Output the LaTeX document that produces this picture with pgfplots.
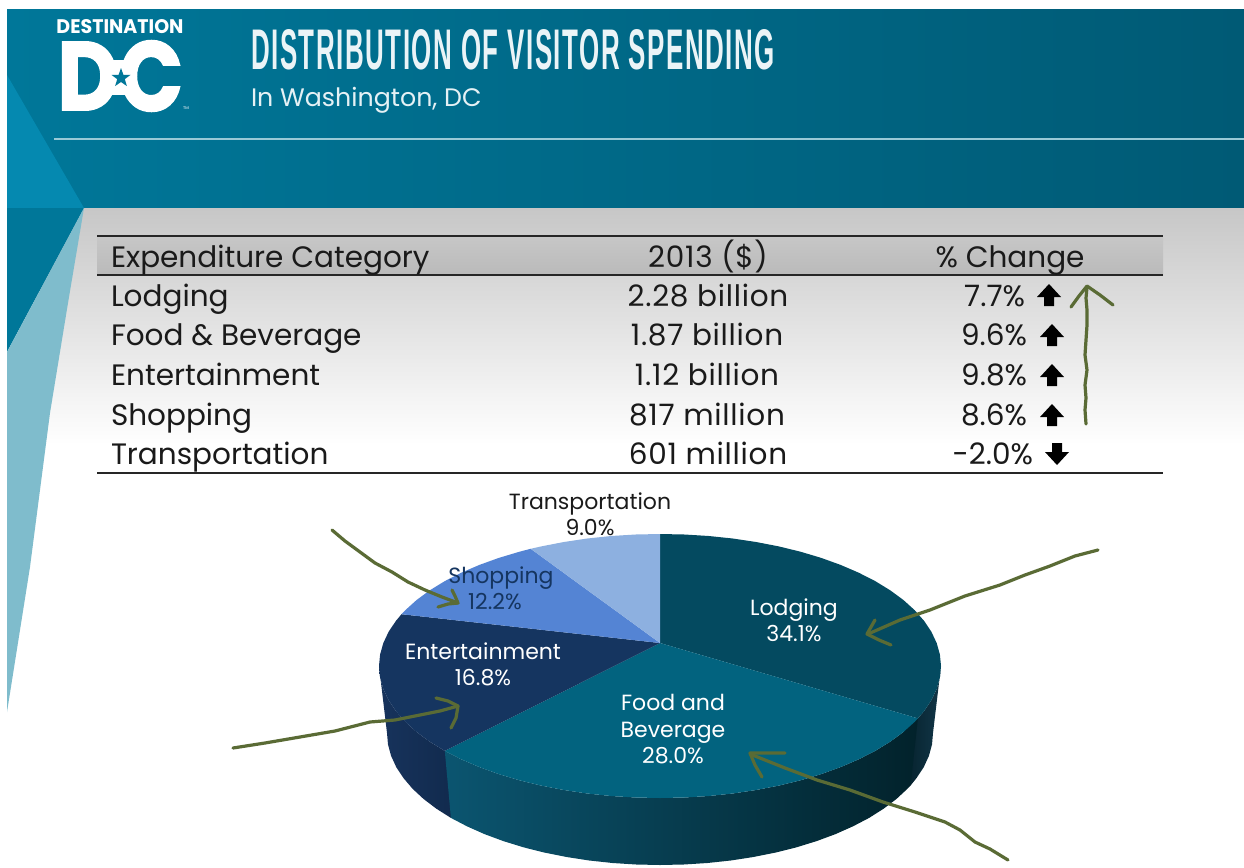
\documentclass[border=0pt]{standalone}
\usepackage{fontspec}
\usepackage{graphicx}
\usepackage{pgfplots}
\pgfplotsset{compat=1.18}
\setmainfont{Poppins}
\newfontfamily\libfont{Liberation Sans}
\definecolor{ink}{HTML}{1A1A1A}
\definecolor{olive}{HTML}{5A6B35}
\definecolor{hdL}{HTML}{007799}
\definecolor{hdR}{HTML}{005A75}
\definecolor{triA}{HTML}{0589B0}
\definecolor{triB}{HTML}{7FBCCC}
\definecolor{lodT}{HTML}{044A60}
\definecolor{fodT}{HTML}{02637F}
\definecolor{entT}{HTML}{153560}
\definecolor{shpT}{HTML}{5484D4}
\definecolor{trnT}{HTML}{8DB0E0}
\definecolor{sA}{HTML}{041F29}
\definecolor{sB}{HTML}{123648}
\definecolor{sC}{HTML}{0B5570}
\definecolor{sD}{HTML}{0A4A62}
\definecolor{sE}{HTML}{02222B}
\definecolor{sF}{HTML}{17335C}
\definecolor{sG}{HTML}{112A4D}
\newcommand\tb{\fontsize{29.5}{29.5}\selectfont}
\newcommand\tbn{\fontsize{29.5}{29.5}\selectfont\addfontfeature{LetterSpace=2.5}}
\newcommand\pl{\fontsize{22}{22}\selectfont}
\newcommand\hand{\addplot[draw=olive,line width=3.2pt,line cap=round]}
\tikzset{tx/.style={inner sep=0pt,outer sep=0pt,text=#1}}
\begin{document}
\begin{tikzpicture}
\begin{axis}[scale only axis,width=1244pt,height=867pt,xmin=0,xmax=1244,ymin=0,ymax=867,y dir=reverse,
  axis lines=none,clip=true,no markers,every axis plot/.append style={forget plot,draw=none,line join=round}]
% background
\addplot[fill=white] coordinates {(0,0)(1244,0)(1244,867)(0,867)} --cycle;
\addplot[left color=hdL,right color=hdR] coordinates {(7,10)(1244,10)(1244,208)(7,208)} --cycle;
\addplot[top color=black!22,bottom color=white] coordinates {(40,208)(1244,208)(1244,445)(40,445)} --cycle;
\addplot[fill=triA] coordinates {(7,75)(84,208)(7,208)} --cycle;
\addplot[fill=white] coordinates {(7,208)(40,208)(40,720)(7,720)} --cycle;
\addplot[fill=hdL] coordinates {(7,208)(84,208)(7,352)} --cycle;
\addplot[fill=triB] coordinates {(84,208)(68,303)(50,413)(30,567)(7,712)(7,352)} --cycle;
\addplot[draw=white!60!hdL,line width=2.5pt] coordinates {(54,139)(1244,139)};
% table
\addplot[top color=black!22,bottom color=black!27] coordinates {(97,236)(1163,236)(1163,275)(97,275)} --cycle;
\addplot[draw=black!85,line width=1.3pt] coordinates {(97,236)(1163,236)};
\addplot[draw=black!85,line width=1.3pt] coordinates {(97,275)(1163,275)};
\addplot[draw=black!85,line width=1.3pt] coordinates {(97,473)(1163,473)};
% table arrows
\addplot[fill=black] coordinates {(1049,284)(1061,297)(1054,297)(1054,306)(1044,306)(1044,297)(1037,297)} --cycle;
\addplot[fill=black] coordinates {(1052,324)(1064,337)(1057,337)(1057,346)(1047,346)(1047,337)(1040,337)} --cycle;
\addplot[fill=black] coordinates {(1052,364)(1064,377)(1057,377)(1057,386)(1047,386)(1047,377)(1040,377)} --cycle;
\addplot[fill=black] coordinates {(1052,404)(1064,417)(1057,417)(1057,426)(1047,426)(1047,417)(1040,417)} --cycle;
\addplot[fill=black] coordinates {(1057,465)(1069,452)(1062,452)(1062,443)(1052,443)(1052,452)(1045,452)} --cycle;
% pie sides
\addplot[left color=sA,right color=sB] coordinates {(905,720)(917.9,718.4)(924.1,711.1)(931.4,700.2)(936.7,688.9)(939.9,677.5)(941,666)(933,733)(932,744.5)(928.9,755.9)(923.7,767.2)(916.5,778.1)(910.6,785.4)(900,790)} --cycle;
\addplot[left color=sF,right color=sG] coordinates {(456,760)(444.8,750.9)(429.8,741.7)(416.6,732)(405.3,721.8)(395.9,711.1)(388.6,700.2)(383.3,688.9)(380.1,677.5)(379,666)(387,733)(388,744.5)(391.1,755.9)(396.3,767.2)(403.5,778.1)(412.6,788.8)(423.6,799)(436.4,808.7)(450.9,817.9)(456,818)} --cycle;
\addplot[left color=sC,middle color=sD,right color=sE] coordinates {(917.9,718.4)(914.7,721.8)(903.4,732)(890.2,741.7)(875.2,750.9)(858.7,759.3)(840.6,767.1)(821.2,774.1)(800.5,780.3)(778.8,785.6)(756.1,790)(732.7,793.5)(708.8,796)(684.5,797.5)(660,798)(635.5,797.5)(611.2,796)(587.3,793.5)(563.9,790)(541.2,785.6)(519.5,780.3)(498.8,774.1)(479.4,767.1)(461.3,759.3)(444.8,750.9)(450.9,817.9)(467,826.3)(484.5,834.1)(503.4,841.1)(523.5,847.3)(544.6,852.6)(566.6,857)(589.3,860.5)(612.6,863)(636.2,864.5)(660,865)(683.8,864.5)(707.4,863)(730.7,860.5)(753.4,857)(775.4,852.6)(796.5,847.3)(816.6,841.1)(835.5,834.1)(853,826.3)(869.1,817.9)(883.6,808.7)(896.4,799)(907.4,788.8)(910.6,785.4)} --cycle;
% pie top
\addplot[fill=lodT] coordinates {(660,643)(660,534)(684.5,534.5)(708.8,536)(732.7,538.5)(756.1,542)(778.8,546.4)(800.5,551.7)(821.2,557.9)(840.6,564.9)(858.7,572.7)(875.2,581.1)(890.2,590.3)(903.4,600)(914.7,610.2)(924.1,620.9)(931.4,631.8)(936.7,643.1)(939.9,654.5)(941,666)(939.9,677.5)(936.7,688.9)(931.4,700.2)(924.1,711.1)(917.9,718.4)} --cycle;
\addplot[fill=fodT] coordinates {(660,643)(917.9,718.4)(914.7,721.8)(903.4,732)(890.2,741.7)(875.2,750.9)(858.7,759.3)(840.6,767.1)(821.2,774.1)(800.5,780.3)(778.8,785.6)(756.1,790)(732.7,793.5)(708.8,796)(684.5,797.5)(660,798)(635.5,797.5)(611.2,796)(587.3,793.5)(563.9,790)(541.2,785.6)(519.5,780.3)(498.8,774.1)(479.4,767.1)(461.3,759.3)(444.8,750.9)} --cycle;
\addplot[fill=entT] coordinates {(660,643)(444.8,750.9)(429.8,741.7)(416.6,732)(405.3,721.8)(395.9,711.1)(388.6,700.2)(383.3,688.9)(380.1,677.5)(379,666)(380.1,654.5)(383.3,643.1)(388.6,631.8)(395.9,620.9)(401.5,614.2)} --cycle;
\addplot[fill=shpT] coordinates {(660,643)(401.5,614.2)(405.3,610.2)(416.6,600)(429.8,590.3)(444.8,581.1)(461.3,572.7)(479.4,564.9)(498.8,557.9)(519.5,551.7)(530.7,548.8)} --cycle;
\addplot[fill=trnT] coordinates {(660,643)(530.7,548.8)(541.2,546.4)(563.9,542)(587.3,538.5)(611.2,536)(635.5,534.5)(660,534)} --cycle;
% hand arrows
\hand coordinates {(1086,424)(1085,410)(1086,398)(1085,385)(1087,370)(1085,355)(1086,340)(1087,325)(1087,310)(1086,298)(1087,287)};
\hand coordinates {(1071,307)(1079,296)(1087,286)(1100,295)(1113,305)};
\hand coordinates {(332,530)(345,541)(360,552)(375,563)(392,572)(408,582)(425,590)(442,597)(458,603)};
\hand coordinates {(438,607)(448,604)(458,603)(455,596)(452,590)};
\hand coordinates {(1098,550)(1075,556)(1050,566)(1025,575)(1000,585)(965,596)(930,610)(900,620)(868,634)};
\hand coordinates {(875,620)(867,634)(879,640)(891,645)};
\hand coordinates {(233,748)(265,743)(300,737)(335,731)(370,722)(395,720)(420,715)(440,711)(458,706)};
\hand coordinates {(436,698)(448,701)(458,706)(456,718)(451,728)};
\hand coordinates {(1008,860)(990,849)(975,842)(960,830)(945,822)(915,812)(883,802)(850,790)(817,780)(785,768)(750,754)};
\hand coordinates {(785,753)(765,753)(750,753)(755,765)(762,777)};
% logo
\node[tx=white,anchor=center] at (axis cs:120,27) {\resizebox{127pt}{14pt}{\bfseries DESTINATION}};
\node[tx=white,anchor=center] at (axis cs:88,76) {\resizebox{61pt}{68pt}{\addfontfeature{FakeBold=2}\bfseries D}};
\node[tx=white,anchor=center] at (axis cs:151,76) {\resizebox{64pt}{70pt}{\addfontfeature{FakeBold=2}\bfseries C}};
\addplot[fill=white] coordinates {(106,60)(130,60)(130,95)(106,95)} --cycle;
\addplot[fill=hdL] coordinates {(121,68)(123.4,74.8)(130.5,74.9)(124.8,79.2)(126.9,86.1)(121,82)(115.1,86.1)(117.2,79.2)(111.5,74.9)(118.6,74.8)} --cycle;
\node[tx=white,anchor=center] at (axis cs:186,108) {\fontsize{4}{4}\selectfont TM};
% titles
\node[tx=white!92!hdL,anchor=west] at (axis cs:251,50) {\resizebox{524pt}{40pt}{\libfont\addfontfeature{LetterSpace=6}\bfseries DISTRIBUTION OF VISITOR SPENDING}};
\node[tx=white!90!hdL,anchor=base west] at (axis cs:251,106) {\fontsize{25.3}{25.3}\selectfont In Washington, DC};
% table text
\node[tx=ink,anchor=base west] at (axis cs:111,267) {\tb Expenditure Category};
\node[tx=ink,anchor=base] at (axis cs:708,267) {\tbn 2013 (\$)};
\node[tx=ink,anchor=base] at (axis cs:1010,267) {\tb \% Change};
\node[tx=ink,anchor=base west] at (axis cs:111,306) {\tb Lodging};
\node[tx=ink,anchor=base west] at (axis cs:111,345) {\tb Food \& Beverage};
\node[tx=ink,anchor=base west] at (axis cs:111,385) {\tb Entertainment};
\node[tx=ink,anchor=base west] at (axis cs:111,425) {\tb Shopping};
\node[tx=ink,anchor=base west] at (axis cs:111,464) {\tb Transportation};
\node[tx=ink,anchor=base] at (axis cs:708,306) {\tbn 2.28 billion};
\node[tx=ink,anchor=base] at (axis cs:707,345) {\tbn 1.87 billion};
\node[tx=ink,anchor=base] at (axis cs:707,385) {\tbn 1.12 billion};
\node[tx=ink,anchor=base] at (axis cs:707,425) {\tbn 817 million};
\node[tx=ink,anchor=base] at (axis cs:708,464) {\tbn 601 million};
\node[tx=ink,anchor=base east] at (axis cs:1025,306) {\tb 7.7\%};
\node[tx=ink,anchor=base east] at (axis cs:1027,345) {\tb 9.6\%};
\node[tx=ink,anchor=base east] at (axis cs:1027,385) {\tb 9.8\%};
\node[tx=ink,anchor=base east] at (axis cs:1027,425) {\tb 8.6\%};
\node[tx=ink,anchor=base east] at (axis cs:1033,464) {\tb -2.0\%};
% pie labels
\node[tx=ink,anchor=base] at (axis cs:590,509) {\pl Transportation};
\node[tx=ink,anchor=base] at (axis cs:590,535) {\pl 9.0\%};
\node[tx=white,anchor=base] at (axis cs:794,615) {\pl Lodging};
\node[tx=white,anchor=base] at (axis cs:794,641) {\pl 34.1\%};
\node[tx=entT,anchor=base] at (axis cs:501,583) {\pl Shopping};
\node[tx=entT,anchor=base] at (axis cs:495,609) {\pl 12.2\%};
\node[tx=white,anchor=base] at (axis cs:483,659) {\pl Entertainment};
\node[tx=white,anchor=base] at (axis cs:483,685) {\pl 16.8\%};
\node[tx=white,anchor=base] at (axis cs:673,710) {\pl Food and};
\node[tx=white,anchor=base] at (axis cs:673,737) {\pl Beverage};
\node[tx=white,anchor=base] at (axis cs:673,763) {\pl 28.0\%};
\end{axis}
\end{tikzpicture}
\end{document}
